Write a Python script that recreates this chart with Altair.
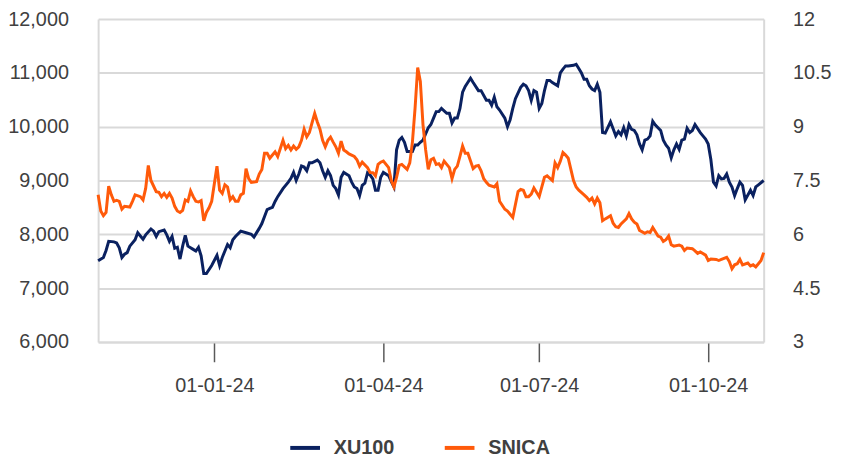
import altair as alt
import pandas as pd

# Trading-session index (0 = first session shown) and closing values
xu_session = [0, 2, 3, 4, 6, 7, 8, 9, 10, 11, 12, 14, 15, 16, 17, 18, 20, 21, 22, 23,
              25, 26, 27, 28, 29, 30, 31, 32, 33, 34, 36, 37, 38, 39, 40, 41, 43, 45, 46, 47,
              49, 50, 51, 52, 54, 56, 58, 59, 61, 62, 64, 65, 66, 67, 68, 70, 72, 73, 74, 75,
              76, 77, 78, 79, 80, 81, 83, 84, 85, 86, 87, 88, 89, 90, 91, 92, 93, 95, 96, 97,
              98, 99, 100, 101, 102, 103, 104, 105, 106, 107, 108, 110, 111, 112, 113, 114, 115, 116, 117, 119,
              120, 121, 122, 123, 125, 126, 127, 128, 129, 130, 132, 133, 134, 135, 136, 137, 138, 139, 141, 142,
              144, 145, 147, 148, 149, 150, 151, 152, 154, 155, 156, 157, 158, 160, 161, 162, 163, 164, 165, 166,
              167, 168, 169, 170, 171, 172, 174, 175, 176, 177, 178, 180, 181, 182, 183, 184, 185, 186, 187, 188,
              189, 190, 191, 192, 194, 195, 196, 197, 198, 199, 200, 201, 202, 203, 204, 205, 206, 207, 208, 209,
              210, 211, 213, 214, 215, 216, 217, 218, 219, 220, 221, 222, 223, 224, 225, 226, 228, 229, 230, 231,
              232, 233, 234, 235, 236, 237, 238, 239, 240, 241, 242, 243, 244, 245, 247, 248, 249, 250, 252]
xu_value = [7510, 7570, 7700, 7870, 7860, 7840, 7750, 7570, 7630, 7660, 7780, 7900, 8030, 7970, 7910, 7990, 8100, 8060, 7960, 8050,
            8080, 7990, 7870, 7960, 7740, 7760, 7540, 7780, 7980, 7780, 7720, 7690, 7760, 7600, 7270, 7270, 7420, 7610, 7420, 7570,
            7810, 7750, 7900, 7960, 8060, 8030, 8000, 7950, 8110, 8200, 8460, 8480, 8500, 8610, 8700, 8850, 8970, 9040, 9150, 9000,
            9120, 9270, 9250, 9180, 9330, 9330, 9380, 9330, 9180, 9060, 9180, 9090, 8910, 8850, 8730, 9060, 9150, 9090, 8970, 8880,
            8850, 8720, 8910, 8950, 9140, 9100, 9030, 8820, 8820, 9060, 9150, 9090, 8980, 8880, 9570, 9750, 9800, 9710, 9540, 9540,
            9660, 9660, 9710, 9750, 9980, 10040, 10160, 10280, 10280, 10340, 10250, 10250, 10070, 10160, 10160, 10340, 10640, 10750, 10900, 10820,
            10670, 10670, 10490, 10490, 10400, 10550, 10370, 10310, 10160, 10000, 10130, 10340, 10520, 10730, 10790, 10760, 10670, 10490, 10670, 10640,
            10340, 10430, 10670, 10860, 10860, 10820, 10760, 11000, 11070, 11130, 11130, 11140, 11160, 11080, 11000, 10880, 10880, 10760, 10700, 10670,
            10790, 10640, 9890, 9880, 10090, 9960, 9830, 9910, 9850, 9980, 9830, 10040, 9950, 9930, 9850, 9680, 9570, 9750, 9770, 9830,
            10100, 10030, 9930, 9750, 9660, 9600, 9420, 9570, 9680, 9580, 9750, 9770, 9970, 9890, 9930, 10040, 9890, 9830, 9770, 9680,
            9390, 8970, 8900, 9090, 9030, 9040, 9120, 8970, 8880, 8720, 8850, 8970, 8910, 8640, 8820, 8720, 8880, 8920, 9000]

sn_session = [0, 1, 2, 3, 4, 5, 6, 7, 8, 9, 10, 12, 13, 14, 16, 17, 18, 19, 20, 22,
              23, 24, 25, 26, 27, 28, 29, 30, 31, 32, 33, 34, 35, 36, 37, 38, 39, 40, 41, 42,
              43, 45, 46, 47, 48, 49, 50, 51, 52, 53, 54, 55, 56, 57, 58, 60, 61, 62, 63, 64,
              65, 66, 67, 68, 70, 71, 72, 73, 74, 75, 76, 77, 78, 79, 80, 81, 82, 83, 84, 85,
              86, 87, 88, 89, 90, 91, 92, 93, 94, 95, 97, 98, 99, 100, 102, 103, 104, 105, 106, 107,
              108, 110, 111, 112, 113, 114, 115, 117, 118, 119, 120, 121, 122, 123, 124, 125, 126, 127, 128, 129,
              130, 131, 132, 133, 134, 135, 136, 137, 138, 139, 140, 142, 143, 144, 145, 146, 147, 148, 150, 151,
              152, 154, 155, 156, 157, 158, 159, 160, 161, 162, 163, 164, 165, 167, 168, 169, 170, 172, 173, 174,
              175, 176, 177, 178, 179, 180, 181, 182, 184, 185, 186, 187, 188, 189, 190, 191, 192, 194, 195, 196,
              197, 198, 200, 201, 202, 203, 204, 205, 207, 208, 209, 210, 211, 212, 213, 214, 215, 216, 217, 218,
              220, 221, 222, 223, 225, 226, 227, 228, 230, 231, 232, 234, 235, 236, 237, 238, 239, 240, 241, 242,
              243, 244, 246, 247, 248, 249, 250, 251, 252]
sn_value = [7.10, 6.65, 6.52, 6.61, 7.34, 7.10, 6.92, 6.95, 6.92, 6.70, 6.78, 6.76, 6.92, 7.10, 7.05, 6.96, 7.28, 7.92, 7.50, 7.19,
            7.17, 7.05, 7.14, 7.03, 7.14, 7.01, 6.78, 6.65, 6.61, 6.67, 6.96, 6.92, 7.21, 7.05, 6.92, 6.90, 6.94, 6.38, 6.61, 6.74,
            6.92, 7.90, 7.23, 7.14, 7.38, 7.32, 6.96, 7.05, 6.92, 6.92, 7.10, 7.14, 7.83, 7.55, 7.45, 7.47, 7.68, 7.81, 8.26, 8.26,
            8.12, 8.21, 8.30, 8.17, 8.62, 8.39, 8.48, 8.35, 8.46, 8.37, 8.44, 8.62, 8.93, 8.72, 8.84, 9.11, 9.37, 9.13, 8.93, 8.62,
            8.44, 8.62, 8.71, 8.57, 8.44, 8.26, 8.60, 8.35, 8.30, 8.24, 8.17, 8.08, 7.90, 8.01, 7.86, 7.72, 7.72, 7.63, 7.95, 8.01,
            8.04, 7.86, 7.50, 7.32, 7.59, 7.92, 7.95, 7.81, 7.99, 8.57, 9.51, 10.65, 10.26, 9.06, 8.36, 7.81, 8.08, 8.12, 7.95, 7.97,
            7.86, 8.04, 7.95, 7.86, 7.55, 7.81, 7.90, 8.17, 8.46, 8.26, 8.26, 7.83, 7.90, 7.92, 7.77, 7.55, 7.45, 7.37, 7.32, 7.41,
            6.92, 6.70, 6.65, 6.56, 6.47, 6.83, 7.19, 7.25, 7.23, 7.05, 7.05, 7.12, 7.29, 7.05, 7.32, 7.59, 7.63, 7.50, 7.99, 7.86,
            8.04, 8.28, 8.21, 8.12, 7.81, 7.50, 7.32, 7.23, 7.10, 7.03, 6.94, 7.01, 6.85, 7.01, 6.88, 6.38, 6.43, 6.52, 6.31, 6.21,
            6.19, 6.29, 6.43, 6.58, 6.43, 6.34, 6.29, 6.11, 6.03, 6.07, 6.05, 6.19, 6.07, 5.95, 5.92, 5.80, 5.85, 5.95, 5.71, 5.67,
            5.70, 5.67, 5.55, 5.62, 5.60, 5.54, 5.47, 5.51, 5.42, 5.27, 5.31, 5.30, 5.27, 5.30, 5.33, 5.36, 5.24, 5.04, 5.15, 5.18,
            5.30, 5.15, 5.20, 5.12, 5.15, 5.09, 5.18, 5.27, 5.49]

series_names = ["XU100", "SNICA"]
series_colors = ["#0A2160", "#FF5A0A"]

tick_sessions = [44, 108, 167, 231]
tick_labels = ["01-01-24", "01-04-24", "01-07-24", "01-10-24"]

left_ticks = [6000, 7000, 8000, 9000, 10000, 11000, 12000]
right_ticks = [3, 4.5, 6, 7.5, 9, 10.5, 12]

df = pd.concat([
    pd.DataFrame({"session": xu_session, "value": xu_value, "series": series_names[0]}),
    pd.DataFrame({"session": sn_session, "value": sn_value, "series": series_names[1]}),
], ignore_index=True)

label_expr = " : ".join(
    f"datum.value == {s} ? '{l}'" for s, l in zip(tick_sessions, tick_labels)
) + " : ''"

FONT = "Liberation Sans"
TEXT = "#404040"
GRID = "#D9D9D9"
FS = 20

x_enc = alt.X(
    "session:Q",
    title=None,
    scale=alt.Scale(domain=[0, 252], nice=False, zero=False),
    axis=alt.Axis(values=tick_sessions, labelExpr=label_expr, grid=False,
                  ticks=True, tickSize=20, tickColor="#595959", tickWidth=1.5,
                  labelPadding=14, labelFlush=False, domainColor=GRID, domainWidth=2),
)

color_enc = alt.Color(
    "series:N",
    scale=alt.Scale(domain=series_names, range=series_colors),
    legend=alt.Legend(title=None, orient="none", legendX=192, legendY=416,
                      direction="horizontal", symbolType="stroke", symbolSize=900,
                      symbolStrokeWidth=4, labelFontSize=FS, labelFontWeight="bold",
                      labelFont=FONT, labelColor=TEXT, columnPadding=42,
                      labelOffset=12, padding=0),
)

left = alt.Chart(df).transform_filter(alt.datum.series == series_names[0]).mark_line(
    strokeWidth=3
).encode(
    x=x_enc,
    y=alt.Y("value:Q", title=None,
            scale=alt.Scale(domain=[6000, 12000], nice=False, zero=False),
            axis=alt.Axis(orient="left", values=left_ticks, format=",.0f", ticks=False,
                          grid=True, gridColor=GRID, gridWidth=2, labelPadding=30,
                          domainColor=GRID, domainWidth=2)),
    color=color_enc,
)

right = alt.Chart(df).transform_filter(alt.datum.series == series_names[1]).mark_line(
    strokeWidth=3
).encode(
    x=x_enc,
    y=alt.Y("value:Q", title=None,
            scale=alt.Scale(domain=[3, 12], nice=False, zero=False),
            axis=alt.Axis(orient="right", values=right_ticks, format=".1~f", ticks=False,
                          grid=False, labelPadding=29, domainColor=GRID, domainWidth=2)),
    color=color_enc,
)

chart = alt.layer(left, right).resolve_scale(y="independent").properties(
    width=672, height=326,
    padding={"left": 91, "top": 9, "right": 70, "bottom": 115},
    autosize=alt.AutoSizeParams(type="none"),
).configure_axis(
    labelFont=FONT, labelFontSize=FS, labelColor=TEXT,
).configure_view(strokeWidth=0)

chart.save("out.html", embed_options={"renderer": "svg", "actions": False})
